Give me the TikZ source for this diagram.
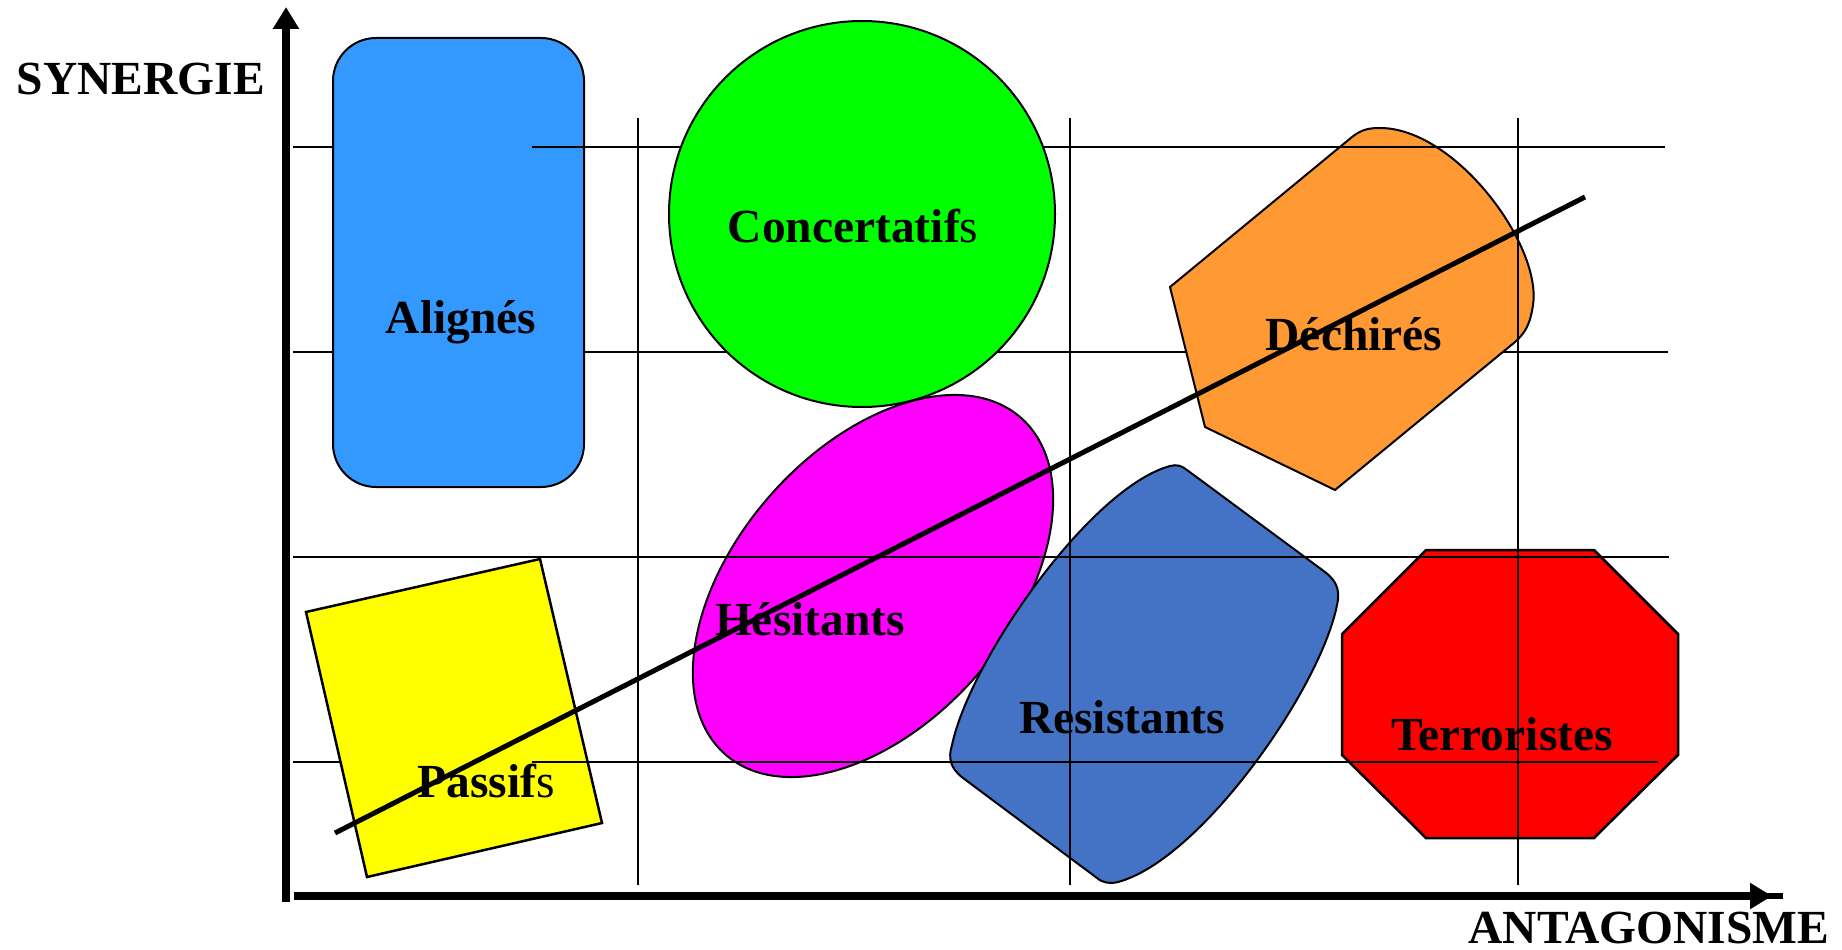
\documentclass[tikz,border=0pt]{standalone}
\usepackage{fontspec}
\setmainfont{Liberation Serif}
\usetikzlibrary{arrows.meta}
\definecolor{alignblue}{HTML}{3399FF}
\definecolor{resblue}{HTML}{4472C4}
\definecolor{dechorange}{HTML}{FF9933}
\definecolor{concgreen}{HTML}{00FF00}
\definecolor{hesmagenta}{HTML}{FF00FF}
\definecolor{passyellow}{HTML}{FFFF00}
\definecolor{terrred}{HTML}{FF0000}
\begin{document}
\begin{tikzpicture}[x=1pt,y=-1pt,
  gridline/.style={line width=2pt, draw=black},
  shapeline/.style={line width=2pt, draw=black},
  lbl/.style={font=\fontsize{47.5}{57}\selectfont\bfseries, inner sep=0pt, anchor=base},
  axisline/.style={line width=7.5pt, -{Triangle[length=22pt,width=25pt]}}]
\useasboundingbox (0,0) rectangle (1842,950);

% axes
\coordinate (yaxis0) at (286,902);
\coordinate (yaxis1) at (286,7);
\coordinate (xaxis0) at (294,896);
\coordinate (xaxis1) at (1772,896);
\coordinate (xstub0) at (1760,896);
\coordinate (xstub1) at (1783,896);
\draw[axisline] (yaxis0) -- (yaxis1);
\draw[axisline] (xaxis0) -- (xaxis1);
\draw[line width=6pt] (xstub0) -- (xstub1);

% grid lines below the shapes
\draw[gridline] (293,147) -- (1665,147);
\draw[gridline] (293,352) -- (1668,352);
\draw[gridline] (293,762) -- (1658,762);

% Alignes
\draw[shapeline, fill=alignblue, rounded corners=43pt] (333,38) rectangle (584,487);

% Dechires
\draw[shapeline, fill=dechorange] (1170,287) -- (1352,137)
  .. controls (1362,129) and (1370,128) .. (1380,128)
  .. controls (1455,128) and (1542,245) .. (1533,305)
  .. controls (1530,325) and (1525,333) .. (1515,342)
  -- (1335,490) -- (1205,427) -- cycle;

% Hesitants
\draw[shapeline, fill=hesmagenta, rotate around={48.7:(873,586)}]
  (873,586) ellipse [x radius=224pt, y radius=137pt];

% Resistants
\draw[shapeline, fill=resblue] (1187,470) -- (1325,572)
  .. controls (1338,582) and (1340,592) .. (1337,605)
  .. controls (1320,690) and (1200,860) .. (1118,882)
  .. controls (1110,884) and (1103,883) .. (1097,878)
  -- (963,778)
  .. controls (950,768) and (948,758) .. (952,745)
  .. controls (970,660) and (1090,488) .. (1170,466)
  .. controls (1177,464) and (1182,466) .. cycle;

% Passifs
\draw[line width=2.5pt, draw=black, fill=passyellow]
  (306,612) -- (540,559) -- (602,823) -- (367,877) -- cycle;

% Terroristes
\draw[line width=2.5pt, draw=black, fill=terrred]
  (1426,550) -- (1594,550) -- (1678,634) -- (1678,755) -- (1594,838)
  -- (1426,838) -- (1342,755) -- (1342,634) -- cycle;

% grid lines above the shapes
\draw[gridline] (532,147) -- (1665,147);
\draw[gridline] (293,557) -- (1669,557);
\draw[gridline] (532,762) -- (1658,762);
\draw[gridline] (638,118) -- (638,885);
\draw[gridline] (1070,118) -- (1070,885);
\draw[gridline] (1518,118) -- (1518,885);

% Concertatifs
\draw[shapeline, fill=concgreen] (862,214) circle [radius=193pt];

% trend line
\coordinate (trend0) at (335,833);
\coordinate (trend1) at (1585,197);
\draw[line width=5pt] (trend0) -- (trend1);

% labels
\node[lbl] (synergie) at (141,94) {SYNERGIE};
\node[lbl] (antag) at (1649,943) {ANTAGONISME};
\node[lbl] (alignes) at (461,333) {Alignés};
\node[lbl] (concert) at (853,242) {Concertatif\mdseries s};
\node[lbl] (dechires) at (1354,350) {Déchirés};
\node[lbl] (hesit) at (810,635) {Hésitants};
\node[lbl] (resist) at (1122,733) {Resistants};
\node[lbl] (passifs) at (486,797) {Passif\mdseries s};
\node[lbl] (terror) at (1502,750) {Terroristes};
\end{tikzpicture}
\end{document}
